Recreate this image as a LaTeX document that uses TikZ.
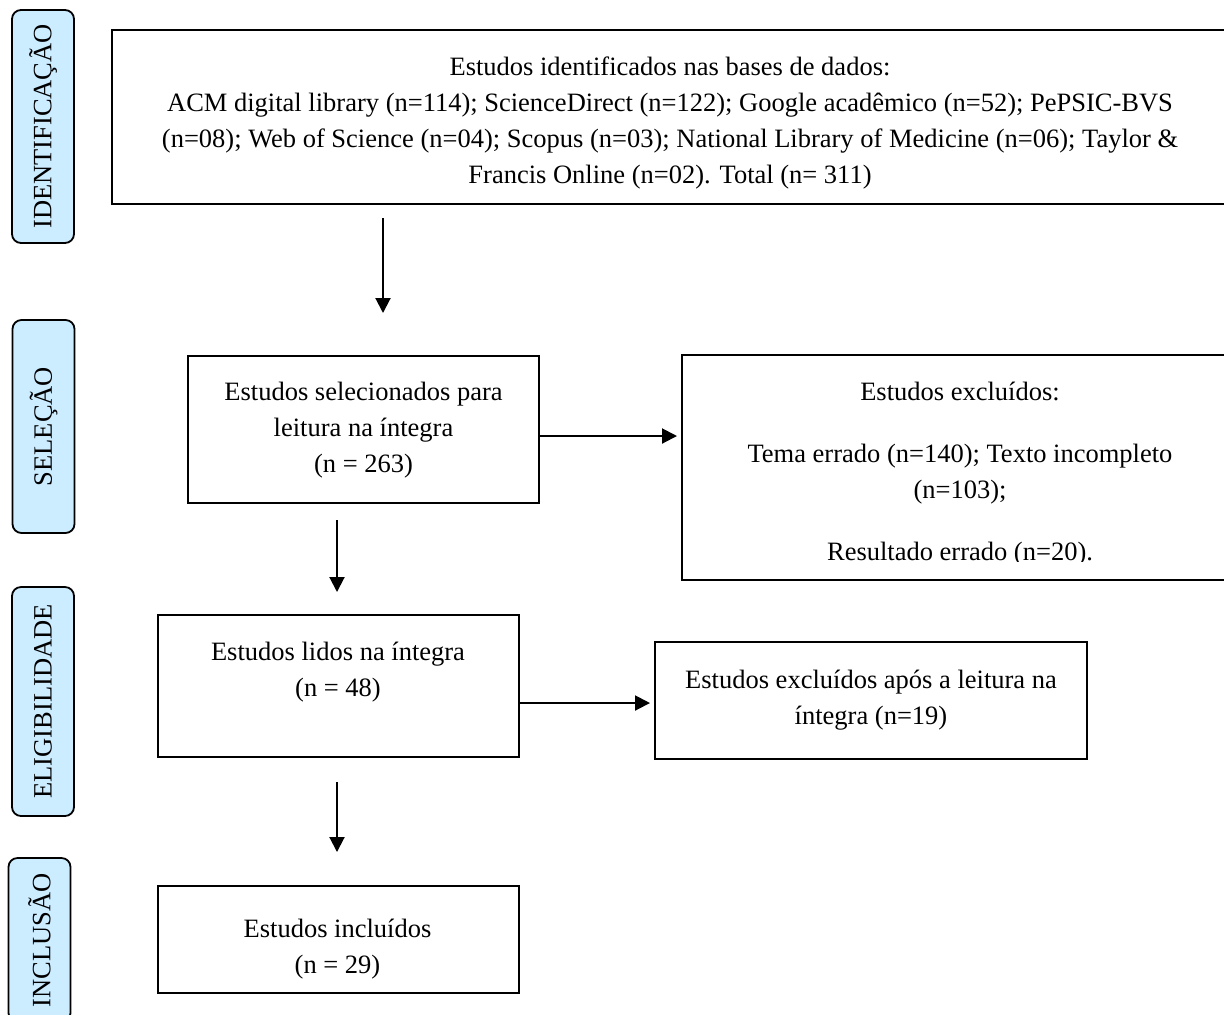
\documentclass[tikz,border=0pt]{standalone}
\usepackage{fontspec}
\setmainfont{Liberation Serif}
\usepackage{tikz}
\usetikzlibrary{arrows.meta}
\usepackage{xcolor}
\definecolor{azulclaro}{RGB}{204,236,255}

\begin{document}
\begin{tikzpicture}[x = 0.5pt, y = -0.5pt, font = \fontsize{13.25}{18}\selectfont,
    caixa/.style = {draw, line width = 0.8pt, inner sep = 0pt},
    etapa/.style = {draw, line width = 0.9pt, fill = azulclaro, rounded corners = 4.5pt,
                    rotate = 90, inner sep = 0pt, minimum height = 31pt},
    texto/.style = {align = center, inner sep = 0pt},
    seta/.style = {line width = 1pt, -{Triangle[length = 7.5pt, width = 7.5pt]}}]

    \useasboundingbox (0,0) rectangle (1224,1014);
    \clip (0,0) rectangle (1224,1014);

    % etapas
    \node[etapa, minimum width = 116.5pt] (etid) at (43,126.5) {IDENTIFICAÇÃO};
    \node[etapa, minimum width = 106.5pt] (etsel) at (43.5,426.5) {SELEÇÃO};
    \node[etapa, minimum width = 114.5pt] (etele) at (43,701.5) {ELIGIBILIDADE};
    \node[etapa, minimum width = 82pt] (etinc) at (39.5,940) {INCLUSÃO};

    % caixas
    \node[caixa, minimum width = 556.5pt, minimum height = 87pt] (ident) at (668.5,117) {};
    \node[texto] (identtxt) at (670,123) {Estudos identificados nas bases de dados:\\
        ACM digital library (n=114); ScienceDirect (n=122); Google acadêmico (n=52); PePSIC-BVS\\
        (n=08); Web of Science (n=04); Scopus (n=03); National Library of Medicine (n=06); Taylor \&\\
        Francis Online (n=02). Total (n= 311)};

    \node[caixa, minimum width = 175.5pt, minimum height = 73.5pt] (sel) at (363.5,429.5) {};
    \node[texto] (seltxt) at (363.5,430) {Estudos selecionados para\\leitura na íntegra\\(n = 263)};

    \node[caixa, minimum width = 271.5pt, minimum height = 112.5pt] (exc) at (953.5,467.5) {};
    \begin{scope}
        \clip (682,355) rectangle (1224,561);
        \node[texto] (exctxt) at (960,474) {Estudos excluídos:\\[13pt]
            Tema errado (n=140); Texto incompleto\\(n=103);\\[13pt]
            Resultado errado (n=20).};
    \end{scope}

    \node[caixa, minimum width = 180.5pt, minimum height = 71pt] (lidos) at (338.5,686) {};
    \node[texto] (lidostxt) at (338,672) {Estudos lidos na íntegra\\(n = 48)};

    \node[caixa, minimum width = 216pt, minimum height = 58.5pt] (apos) at (871,700.5) {};
    \node[texto] (apostxt) at (871,700) {Estudos excluídos após a leitura na\\íntegra (n=19)};

    \node[caixa, minimum width = 180.5pt, minimum height = 53.5pt] (incl) at (338.5,939.5) {};
    \node[texto] (incltxt) at (337.5,949) {Estudos incluídos\\(n = 29)};

    % setas
    \coordinate (s1a) at (383,218);
    \coordinate (s1b) at (383,313);
    \coordinate (s2b) at (677,436);
    \coordinate (s3a) at (337,520);
    \coordinate (s3b) at (337,592);
    \coordinate (s4b) at (650,703);
    \coordinate (s5a) at (337,782);
    \coordinate (s5b) at (337,852);

    \draw[seta] (s1a) -- (s1b);
    \draw[seta] (sel.east |- s2b) -- (s2b);
    \draw[seta] (s3a) -- (s3b);
    \draw[seta] (lidos.east |- s4b) -- (s4b);
    \draw[seta] (s5a) -- (s5b);

\end{tikzpicture}
\end{document}
